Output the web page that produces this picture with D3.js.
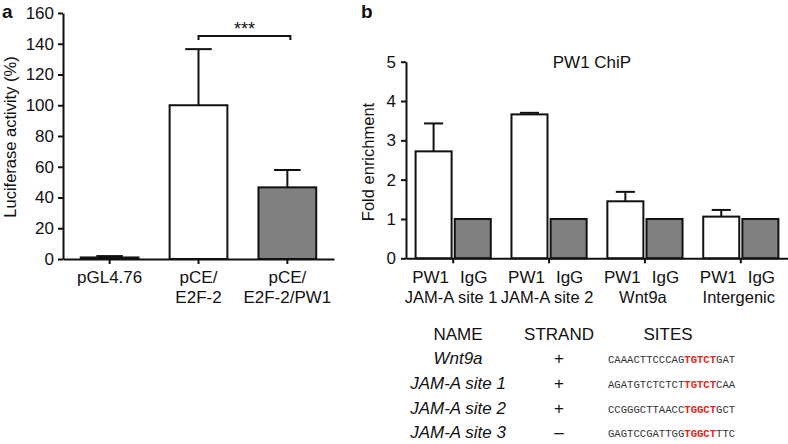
<!DOCTYPE html>
<html><head><meta charset="utf-8">
<script src="https://cdn.jsdelivr.net/npm/d3@7"></script>
<style>
body{margin:0;background:#fff;}
svg{display:block;font-family:"Liberation Sans",Arial,Helvetica,sans-serif;}
</style></head>
<body>
<svg id="c" width="788" height="444"></svg>
<script>
// ---- Panel a data ----
const catsA = ["pGL4.76", "pCE/|E2F-2", "pCE/|E2F-2/PW1"];
const valuesA = [1.0, 100, 46.6];
const errA = [0.9, 36.5, 11.3];
const ticksA = [0, 20, 40, 60, 80, 100, 120, 140, 160];

// ---- Panel b data ----
const groupsB = ["JAM-A site 1", "JAM-A site 2", "Wnt9a", "Intergenic"];
const seriesB = ["PW1", "IgG"];
const pw1Values = [2.72, 3.66, 1.45, 1.06];
const pw1Err = [0.71, 0.04, 0.24, 0.17];
const iggValues = [1, 1, 1, 1];
const ticksB = [0, 1, 2, 3, 4, 5];

// ---- Table data ----
const tableHeaders = ["NAME", "STRAND", "SITES"];
const tableNames = ["Wnt9a", "JAM-A site 1", "JAM-A site 2", "JAM-A site 3"];
const tableStrands = ["+", "+", "+", "\u2013"];
const sitePre = ["CAAACTTCCCAG", "AGATGTCTCTCT", "CCGGGCTTAACC", "GAGTCCGATTGG"];
const siteMotif = ["TGTCT", "TGTCT", "TGGCT", "TGGCT"];
const sitePost = ["GAT", "CAA", "GCT", "TTC"];

const svg = d3.select("#c");
const ink = "#111";
const grey = "#808080";
const FS = 16.5;
const FT = 17;

function styleAxis(g){
  g.selectAll("path.domain").attr("stroke", ink).attr("stroke-width", 2);
  g.selectAll(".tick line").attr("stroke", ink).attr("stroke-width", 2);
  g.selectAll(".tick text").attr("fill", ink).attr("font-size", FT)
    .attr("font-family", "Liberation Sans, Arial, sans-serif");
}

// ================= Panel a =================
const xA = d3.scaleBand().domain(catsA).range([63, 334]).paddingInner(0.35).paddingOuter(0.2);
const yA = d3.scaleLinear().domain([0, 160]).range([259, 13]);

const gA = svg.append("g");
gA.selectAll("rect.bar").data(catsA).join("rect")
  .attr("x", d => xA(d))
  .attr("y", (d, i) => yA(valuesA[i]))
  .attr("width", xA.bandwidth())
  .attr("height", (d, i) => yA(0) - yA(valuesA[i]))
  .attr("fill", (d, i) => i === 2 ? grey : "#fff")
  .attr("stroke", ink).attr("stroke-width", 2);
catsA.forEach((d, i) => {
  const cx = xA(d) + xA.bandwidth() / 2;
  const capW = xA.bandwidth() * 0.46;
  gA.append("line").attr("x1", cx).attr("x2", cx)
    .attr("y1", yA(valuesA[i])).attr("y2", yA(valuesA[i] + errA[i]))
    .attr("stroke", ink).attr("stroke-width", 2);
  gA.append("line").attr("x1", cx - capW / 2).attr("x2", cx + capW / 2)
    .attr("y1", yA(valuesA[i] + errA[i])).attr("y2", yA(valuesA[i] + errA[i]))
    .attr("stroke", ink).attr("stroke-width", 2);
});
const axA = gA.append("g").attr("transform", `translate(63,0)`)
  .call(d3.axisLeft(yA).tickValues(ticksA).tickSize(5).tickSizeOuter(0).tickPadding(4));
styleAxis(axA);
const axAx = gA.append("g").attr("transform", `translate(0,${yA(0)})`)
  .call(d3.axisBottom(xA).tickSize(5).tickSizeOuter(0).tickFormat(""));
styleAxis(axAx);
catsA.forEach(d => {
  const cx = xA(d) + xA.bandwidth() / 2;
  d.split("|").forEach((ln, k) => {
    gA.append("text").attr("x", cx).attr("y", 283 + k * 19.5)
      .attr("text-anchor", "middle").attr("font-size", FT).attr("fill", ink).text(ln);
  });
});
gA.append("text").attr("transform", `translate(16,${(yA(0) + yA(160)) / 2 + 1}) rotate(-90)`)
  .attr("text-anchor", "middle").attr("font-size", FS).attr("fill", ink)
  .text("Luciferase activity (%)");
{
  const x1 = xA(catsA[1]) + xA.bandwidth() / 2;
  const x2 = xA(catsA[2]) + xA.bandwidth() / 2 + 3;
  const yb = yA(145);
  gA.append("path").attr("d", `M${x1},${yb + 4}V${yb}H${x2}V${yb + 4}`)
    .attr("fill", "none").attr("stroke", ink).attr("stroke-width", 2);
  gA.append("text").attr("x", (x1 + x2) / 2).attr("y", yb - 1)
    .attr("text-anchor", "middle").attr("font-size", 18).attr("fill", ink).text("***");
}
svg.append("text").attr("x", 2).attr("y", 18).attr("font-size", 19)
  .attr("font-weight", "bold").attr("fill", ink).text("a");

// ================= Panel b =================
const xB = d3.scaleBand().domain(groupsB).range([406, 788]).paddingInner(0.216).paddingOuter(0.1);
const xS = d3.scaleBand().domain(seriesB).range([0, xB.bandwidth()]).paddingInner(0.08);
const yB = d3.scaleLinear().domain([0, 5]).range([258.3, 61.7]);

const gB = svg.append("g");
const rows = groupsB.map((g, i) => ({ g, vals: [pw1Values[i], iggValues[i]], errs: [pw1Err[i], null] }));
rows.forEach(r => {
  seriesB.forEach((s, j) => {
    const x = xB(r.g) + xS(s);
    gB.append("rect").attr("x", x).attr("y", yB(r.vals[j]))
      .attr("width", xS.bandwidth()).attr("height", yB(0) - yB(r.vals[j]))
      .attr("fill", j === 1 ? grey : "#fff").attr("stroke", ink).attr("stroke-width", 2);
    if (r.errs[j] != null) {
      const cx = x + xS.bandwidth() / 2;
      const capW = xS.bandwidth() * 0.53;
      const top = yB(r.vals[j] + r.errs[j]);
      gB.append("line").attr("x1", cx).attr("x2", cx).attr("y1", yB(r.vals[j])).attr("y2", top)
        .attr("stroke", ink).attr("stroke-width", 2);
      gB.append("line").attr("x1", cx - capW / 2).attr("x2", cx + capW / 2).attr("y1", top).attr("y2", top)
        .attr("stroke", ink).attr("stroke-width", 2);
    }
    gB.append("text").attr("x", x + xS.bandwidth() / 2 + (j === 0 ? -3 : 1)).attr("y", 283)
      .attr("text-anchor", "middle").attr("font-size", FT).attr("fill", ink).text(s);
  });
  gB.append("text").attr("x", xB(r.g) + xB.bandwidth() / 2 - 2).attr("y", 302.5)
    .attr("text-anchor", "middle").attr("font-size", FS).attr("fill", ink).text(r.g);
});
const axB = gB.append("g").attr("transform", `translate(406,0)`)
  .call(d3.axisLeft(yB).tickValues(ticksB).tickFormat(d3.format("d")).tickSize(5).tickSizeOuter(0).tickPadding(5));
styleAxis(axB);
const axBx = gB.append("g").attr("transform", `translate(0,${yB(0)})`)
  .call(d3.axisBottom(xB).tickSize(5).tickSizeOuter(0).tickFormat(""));
styleAxis(axBx);
gB.append("text").attr("transform", `translate(374,${(yB(0) + yB(5)) / 2 + 2}) rotate(-90)`)
  .attr("text-anchor", "middle").attr("font-size", FS).attr("fill", ink).text("Fold enrichment");
gB.append("text").attr("x", 592).attr("y", 68).attr("text-anchor", "middle")
  .attr("font-size", FT).attr("fill", ink).text("PW1 ChiP");
svg.append("text").attr("x", 361).attr("y", 18).attr("font-size", 19)
  .attr("font-weight", "bold").attr("fill", ink).text("b");

// ================= Table =================
const colX = [458, 559, 668];
const gT = svg.append("g");
tableHeaders.forEach((h, i) => {
  gT.append("text").attr("x", colX[i]).attr("y", 340).attr("text-anchor", "middle")
    .attr("font-size", FT).attr("fill", ink).text(h);
});
const rowY = [364, 389, 413.5, 438];
tableNames.forEach((n, i) => {
  gT.append("text").attr("x", colX[0]).attr("y", rowY[i]).attr("text-anchor", "middle")
    .attr("font-size", 17).attr("font-style", "italic").attr("fill", ink).text(n);
  gT.append("text").attr("x", colX[1]).attr("y", rowY[i]).attr("text-anchor", "middle")
    .attr("font-size", 17).attr("fill", ink).text(tableStrands[i]);
  const t = gT.append("text").attr("x", 608).attr("y", rowY[i] - 1)
    .attr("font-family", "Liberation Mono, Courier New, monospace").attr("font-size", 10.6)
    .attr("fill", "#333");
  t.append("tspan").text(sitePre[i]);
  t.append("tspan").attr("fill", "#e52620").attr("font-weight", "bold").text(siteMotif[i]);
  t.append("tspan").text(sitePost[i]);
});
</script>
</body></html>
